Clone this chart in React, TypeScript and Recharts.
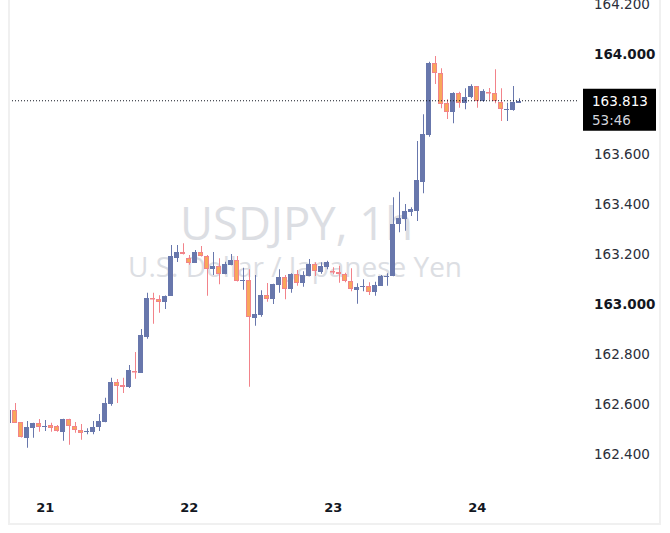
import React from 'react';
import { ComposedChart, Bar, XAxis, YAxis, ReferenceLine } from 'recharts';

// ─── Data (hourly candles, USDJPY) ───────────────────────────────────────────

const opens = [
    162.525, 162.576, 162.527, 162.465, 162.505, 162.524, 162.508, 162.516, 162.511, 162.489,
    162.54, 162.511, 162.496, 162.489, 162.489, 162.509, 162.528, 162.601, 162.688, 162.676,
    162.669, 162.732, 162.725, 162.868, 163.024, 163.02, 163.009, 163.033, 163.185, 163.208,
    163.184, 163.165, 163.207, 163.191, 163.139, 163.152, 163.121, 163.157, 163.175, 163.093,
    163.096, 162.945, 162.957, 163.035, 163.021, 163.077, 163.108, 163.061, 163.12, 163.083,
    163.112, 163.16, 163.128, 163.149, 163.132, 163.128, 163.12, 163.091, 163.057, 163.067,
    163.071, 163.047, 163.073, 163.111, 163.112, 163.319, 163.339, 163.368, 163.373, 163.489,
    163.676, 163.964, 163.923, 163.805, 163.769, 163.843, 163.805, 163.827, 163.871, 163.812,
    163.849, 163.843, 163.807, 163.779, 163.777, 163.805,
];

const highs = [
    162.58, 162.604, 162.528, 162.532, 162.525, 162.54, 162.536, 162.525, 162.516, 162.541,
    162.541, 162.528, 162.52, 162.503, 162.532, 162.56, 162.625, 162.705, 162.7, 162.705,
    162.756, 162.808, 162.9, 163.045, 163.045, 163.035, 163.034, 163.236, 163.236, 163.243,
    163.196, 163.216, 163.232, 163.196, 163.208, 163.183, 163.169, 163.2, 163.192, 163.145,
    163.139, 163.116, 163.055, 163.084, 163.081, 163.139, 163.116, 163.123, 163.136, 163.131,
    163.18, 163.167, 163.167, 163.173, 163.147, 163.153, 163.125, 163.143, 163.083, 163.099,
    163.087, 163.089, 163.116, 163.123, 163.427, 163.449, 163.4, 163.387, 163.652, 163.759,
    163.969, 163.992, 163.943, 163.819, 163.847, 163.849, 163.863, 163.879, 163.872, 163.859,
    163.864, 163.939, 163.863, 163.805, 163.872, 163.823,
];

const lows = [
    162.52, 162.524, 162.466, 162.425, 162.465, 162.489, 162.492, 162.489, 162.489, 162.453,
    162.437, 162.485, 162.457, 162.479, 162.479, 162.492, 162.527, 162.593, 162.604, 162.644,
    162.664, 162.701, 162.724, 162.861, 162.921, 162.965, 162.98, 163.032, 163.168, 163.198,
    163.157, 163.164, 163.19, 163.033, 163.116, 163.079, 163.119, 163.155, 163.09, 163.057,
    162.669, 162.913, 162.949, 163.009, 163.0, 163.045, 163.019, 163.045, 163.073, 163.069,
    163.111, 163.112, 163.121, 163.139, 163.119, 163.085, 163.087, 163.051, 163.001, 163.051,
    163.036, 163.033, 163.072, 163.073, 163.111, 163.287, 163.293, 163.352, 163.332, 163.443,
    163.669, 163.88, 163.783, 163.74, 163.723, 163.785, 163.779, 163.823, 163.785, 163.809,
    163.816, 163.803, 163.732, 163.732, 163.773, 163.804,
];

const closes = [
    162.576, 162.525, 162.467, 162.508, 162.524, 162.507, 162.512, 162.505, 162.491, 162.54,
    162.511, 162.495, 162.485, 162.493, 162.508, 162.532, 162.604, 162.688, 162.673, 162.669,
    162.736, 162.728, 162.876, 163.024, 163.02, 163.009, 163.033, 163.192, 163.208, 163.199,
    163.165, 163.208, 163.191, 163.139, 163.152, 163.119, 163.16, 163.176, 163.091, 163.096,
    162.947, 162.96, 163.035, 163.021, 163.08, 163.108, 163.059, 163.12, 163.083, 163.116,
    163.16, 163.131, 163.153, 163.168, 163.129, 163.119, 163.091, 163.061, 163.068, 163.071,
    163.047, 163.076, 163.112, 163.113, 163.32, 163.343, 163.372, 163.38, 163.496, 163.68,
    163.964, 163.923, 163.8, 163.769, 163.843, 163.805, 163.827, 163.871, 163.812, 163.853,
    163.843, 163.812, 163.78, 163.781, 163.807, 163.813,
];

// candle number where each day starts (00:00)
const dayFirstCandle = [7, 31, 55, 79];
const dayLabels = ['21', '22', '23', '24'];

// 163.800 sits under the last-price tag, so it is not listed
const priceTicks = [162.4, 162.6, 162.8, 163.0, 163.2, 163.4, 163.6, 164.0, 164.2];
const boldTicks = [163.0, 164.0];

const lastPrice = 163.813;
const countdown = '53:46';
const symbolTitle = 'USDJPY, 1h';
const symbolName = 'U.S. Dollar / Japanese Yen';

// ─── Style ────────────────────────────────────────────────────────────────────

const UP = '#6877ac';
const DOWN_FILL = '#f8a75a';
const DOWN_EDGE = '#f2838a';
const TEXT = '#131722';
const FONT = '"DejaVu Sans", sans-serif';

const data = opens.map((open, i) => ({
    idx: i + 1,
    open,
    high: highs[i],
    low: lows[i],
    close: closes[i],
    range: [lows[i], highs[i]],
}));

// ─── Candle shape (bar spans low→high, body placed on the same scale) ────────

const Candle = (props: any) => {
    const { x, y, width, height, payload } = props;
    const { open, close, high, low } = payload;
    const k = height / (high - low);
    const yAt = (v: number) => y + (high - v) * k;
    const up = close >= open;
    const cx = Math.round(x + width / 2) + 0.5;
    const left = Math.round(x);
    const top = Math.round(yAt(Math.max(open, close)));
    const bottom = Math.max(Math.round(yAt(Math.min(open, close))), top + 1);
    return (
        <g>
            <line x1={cx} x2={cx} y1={y} y2={y + height} stroke={up ? UP : DOWN_EDGE} strokeWidth={1} />
            {up ? (
                <rect x={left} y={top} width={width} height={bottom - top} fill={UP} />
            ) : (
                <rect
                    x={left + 0.5}
                    y={top + 0.5}
                    width={width - 1}
                    height={Math.max(bottom - top - 1, 0.5)}
                    fill={DOWN_FILL}
                    stroke={DOWN_EDGE}
                    strokeWidth={1}
                />
            )}
        </g>
    );
};

// ─── Axis ticks ───────────────────────────────────────────────────────────────

const PriceTick = (props: any) => {
    const { x, y, payload } = props;
    const bold = boldTicks.some((b) => Math.abs(b - payload.value) < 1e-6);
    return (
        <text
            x={x + 9}
            y={y}
            textAnchor="start"
            dominantBaseline="central"
            fontFamily={FONT}
            fontSize={13.5}
            fontWeight={bold ? 'bold' : 'normal'}
            fill={bold ? TEXT : '#2a2e39'}
        >
            {payload.value.toFixed(3)}
        </text>
    );
};

const DayTick = (props: any) => {
    const { x, y, payload } = props;
    const label = dayLabels[dayFirstCandle.indexOf(payload.value)];
    return (
        <text
            x={x}
            y={y + 20}
            textAnchor="middle"
            dominantBaseline="central"
            fontFamily={FONT}
            fontSize={13}
            fontWeight="bold"
            fill={TEXT}
        >
            {label}
        </text>
    );
};

const PriceTag = (props: any) => {
    const { viewBox } = props;
    if (!viewBox) return null;
    const left = viewBox.x + viewBox.width + 6;
    const mid = viewBox.y;
    return (
        <g>
            <rect x={left} y={mid - 12} width={73} height={42} fill="#000" />
            <text
                x={left + 9}
                y={mid}
                dominantBaseline="central"
                fontFamily={FONT}
                fontSize={13.5}
                fill="#fff"
            >
                {lastPrice.toFixed(3)}
            </text>
            <text
                x={left + 9}
                y={mid + 19}
                dominantBaseline="central"
                fontFamily={FONT}
                fontSize={13.5}
                fill="#d1d4dc"
            >
                {countdown}
            </text>
        </g>
    );
};

// ─── Chart ────────────────────────────────────────────────────────────────────

export default function App() {
    return (
        <div
            style={{
                position: 'absolute',
                left: 0,
                top: 0,
                width: 670,
                height: 533,
                overflow: 'hidden',
                background: '#fff',
            }}
        >
            {/* watermark */}
            <svg width={670} height={533} style={{ position: 'absolute', left: 0, top: 0 }}>
                <text
                    x={296.5}
                    y={240}
                    textAnchor="middle"
                    fontFamily='"Open Sans", sans-serif'
                    fontSize={46}
                    fill="#dcdee3"
                    textLength={233}
                    lengthAdjust="spacingAndGlyphs"
                >
                    {symbolTitle}
                </text>
                <text
                    x={295}
                    y={276.7}
                    textAnchor="middle"
                    fontFamily='"Open Sans", sans-serif'
                    fontSize={27}
                    fill="#dcdee3"
                    textLength={334}
                    lengthAdjust="spacingAndGlyphs"
                >
                    {symbolName}
                </text>
            </svg>

            {/* frame */}
            <div
                style={{
                    position: 'absolute',
                    left: 8,
                    top: -10,
                    width: 653,
                    height: 535,
                    border: '2px solid #f0f0f0',
                    boxSizing: 'border-box',
                }}
            />

            <div style={{ position: 'absolute', left: 0, top: 0 }}>
                <ComposedChart
                    width={670}
                    height={533}
                    data={data}
                    margin={{ top: 4, right: 0, left: 10, bottom: 0 }}
                >
                    <XAxis
                        dataKey="idx"
                        type="number"
                        domain={[1.12, 95.62]}
                        allowDataOverflow
                        ticks={dayFirstCandle}
                        interval={0}
                        tick={<DayTick />}
                        axisLine={false}
                        tickLine={false}
                        height={54}
                    />
                    <YAxis
                        orientation="right"
                        domain={[162.3, 164.2]}
                        allowDataOverflow
                        ticks={priceTicks}
                        interval={0}
                        tick={<PriceTick />}
                        axisLine={false}
                        tickLine={false}
                        width={93}
                    />
                    <ReferenceLine
                        y={lastPrice}
                        stroke="#131722"
                        strokeDasharray="1 2"
                        strokeWidth={1}
                        label={<PriceTag />}
                    />
                    <Bar dataKey="range" barSize={5} shape={<Candle />} isAnimationActive={false} />
                </ComposedChart>
            </div>
        </div>
    );
}
